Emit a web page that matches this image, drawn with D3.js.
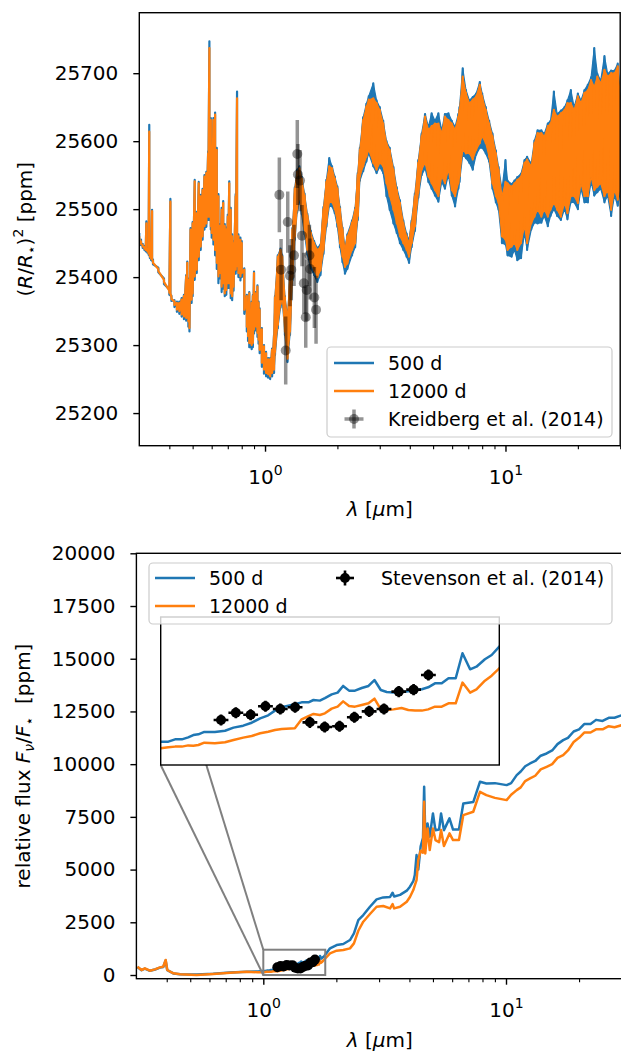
<!DOCTYPE html>
<html>
<head>
<meta charset="utf-8">
<script src="https://cdn.jsdelivr.net/npm/d3@7"></script>
<style>
  body { margin: 0; background: #fff; }
  svg text { font-family: "DejaVu Sans", sans-serif; fill: #000; }
</style>
</head>
<body>
<div id="chart"></div>
<script>
// ---------- data ----------

// top panel: transmission spectrum, sampled as upper / lower envelope of the dense model spectrum
const topWavelength = [
  0.300,0.305,0.310,0.315,0.319,0.321,0.324,0.328,0.330,0.332, 0.336,0.339,0.342,0.360,0.380,0.400,0.404,0.408,0.420,0.430,
  0.440,0.450,0.460,0.470,0.475,0.480,0.485,0.490,0.495,0.500,
  0.51,0.52,0.53,0.54,0.55,0.56,0.57,0.58,0.587,0.595, 0.60,0.61,0.62,0.63,0.64,0.65,0.66,0.67,0.68,0.69,
  0.70,0.71,0.72,0.73,0.74,0.755,0.765,0.775,0.79,0.80,
  0.82,0.84,0.85,0.86,0.87,0.88,0.89,0.90,0.91,0.92, 0.93,0.94,0.95,0.97,0.99,1.01,1.03,1.05,1.07,1.09,
  1.10,1.13,1.16,1.18,1.21,1.24,1.27,1.30,1.33,1.36, 1.39,1.42,1.46,1.50,1.55,1.60,1.65,1.70,1.75,1.80,
  1.85,1.90,1.95,2.00,2.05,2.10,2.15,2.20,2.30,2.37, 2.43,2.48,2.56,2.64,
  2.70,2.82,2.91,3.00,3.10,3.20,3.30,3.42,3.53,3.64, 3.76,3.88,3.97,4.07,4.20,4.34,4.48,4.63,4.78,4.93,
  5.09,5.26,5.43,5.60,5.79,5.98,6.17,6.37,6.44,6.64, 6.85,7.08,7.31,7.55,7.82,8.00,8.28,8.55,8.83,9.12,
  9.36,9.67,10.0,10.2,10.6,10.9,11.2,11.6,12.0,12.3, 12.8,13.2,13.6,14.1,14.5,15.0,15.4,15.9,16.4,17.0,
  17.6,18.1,18.7,19.3,20.0,20.6,21.3,22.0,22.7,23.4, 24.1,24.9,25.8,26.6,27.5,28.4,29.3,30.0
];
const transit12000Upper = [
  25460,25452,25447,25444,25442,25479,25441,25438,25614,25433, 25430,25497,25424,25412,25396,25380,25511,25371,25364,25362,
  25362,25367,25372,25401,25421,25396,25386,25470,25450,25479,
  25541,25494,25538,25519,25528,25548,25553,25582,25737,25631, 25568,25631,25639,25587,25519,25475,25499,25509,25475,25470,
  25489,25538,25499,25460,25450,25519,25663,25460,25455,25450,
  25411,25372,25352,25376,25352,25362,25372,25406,25376,25372, 25386,25362,25352,25323,25298,25288,25279,25279,25293,25313,
  25370,25430,25440,25430,25370,25340,25400,25470,25530,25555, 25560,25545,25520,25490,25465,25450,25440,25445,25500,25540,
  25563,25560,25545,25530,25500,25470,25440,25460,25480,25499, 25550,25587,25631,25651,
  25661,25663,25656,25646,25626,25597,25587,25558,25528,25509, 25479,25460,25450,25479,25519,25568,25607,25636,25617,25622,
  25626,25626,25612,25636,25631,25626,25617,25636,25646,25695, 25671,25656,25661,25666,25683,25666,25646,25626,25607,25582,
  25558,25519,25540,25538,25533,25538,25543,25548,25568,25573, 25563,25597,25612,25612,25607,25622,25626,25646,25636,25641,
  25646,25656,25656,25646,25666,25656,25671,25675,25690,25680, 25695,25685,25705,25695,25700,25700,25710,25666
];
const transit12000Lower = [
  25456,25449,25445,25442,25440,25440,25438,25435,25434,25430, 25427,25426,25421,25409,25393,25377,25376,25368,25359,25352,
  25350,25345,25342,25340,25345,25335,25325,25367,25367,25376,
  25401,25411,25430,25445,25460,25475,25479,25489,25489,25475, 25465,25455,25440,25421,25401,25406,25386,25391,25376,25381,
  25391,25391,25376,25372,25386,25411,25416,25406,25401,25406,
  25352,25327,25313,25303,25303,25300,25303,25323,25333,25327, 25318,25308,25293,25274,25264,25259,25257,25254,25259,25264,
  25290,25330,25360,25370,25320,25280,25320,25400,25460,25500, 25520,25500,25470,25440,25420,25410,25400,25410,25440,25480,
  25510,25510,25500,25480,25450,25430,25415,25420,25440,25450, 25490,25548,25563,25577,
  25587,25568,25558,25568,25563,25538,25519,25499,25479,25460, 25450,25440,25430,25450,25475,25524,25558,25568,25548,25538,
  25528,25519,25548,25538,25558,25528,25519,25538,25548,25587, 25582,25582,25573,25587,25597,25607,25597,25577,25538,25519,
  25509,25460,25455,25440,25445,25450,25440,25450,25475,25450, 25479,25489,25499,25489,25499,25489,25499,25509,25499,25489,
  25509,25494,25519,25519,25509,25538,25519,25519,25548,25528, 25533,25538,25519,25528,25499,25528,25514,25533
];
const transit500Upper = [
  25465,25455,25449,25446,25444,25482,25443,25440,25624,25435, 25432,25499,25426,25414,25398,25382,25515,25373,25366,25364,
  25364,25369,25374,25403,25423,25398,25388,25472,25452,25481,
  25543,25496,25540,25521,25530,25550,25555,25585,25747,25634, 25571,25634,25642,25590,25522,25478,25502,25512,25478,25473,
  25492,25541,25502,25463,25453,25522,25673,25463,25458,25453,
  25413,25374,25354,25378,25354,25364,25374,25408,25378,25374, 25388,25364,25354,25325,25300,25290,25281,25281,25295,25315,
  25372,25432,25442,25432,25372,25342,25402,25472,25532,25558, 25563,25548,25523,25493,25468,25453,25443,25448,25503,25543,
  25575,25563,25548,25533,25503,25473,25443,25463,25483,25502, 25553,25590,25635,25655,
  25666,25685,25660,25650,25630,25600,25590,25562,25532,25513, 25483,25464,25454,25483,25523,25572,25611,25640,25621,25641,
  25630,25641,25616,25640,25641,25630,25621,25640,25650,25707, 25675,25660,25665,25670,25687,25670,25650,25630,25611,25586,
  25562,25529,25572,25542,25537,25542,25547,25552,25572,25577, 25567,25601,25616,25616,25611,25626,25630,25673,25640,25645,
  25650,25660,25675,25650,25670,25660,25675,25683,25694,25737, 25699,25689,25725,25699,25704,25704,25714,25670
];
const transit500Lower = [
  25454,25447,25443,25440,25438,25438,25436,25433,25432,25428, 25425,25424,25419,25407,25390,25374,25373,25365,25356,25349,
  25346,25342,25338,25336,25341,25327,25320,25362,25362,25372,
  25396,25406,25425,25440,25455,25470,25474,25484,25484,25470, 25458,25448,25432,25412,25391,25398,25378,25383,25372,25374,
  25384,25384,25369,25366,25380,25405,25410,25400,25395,25400,
  25346,25320,25306,25297,25297,25294,25297,25317,25327,25321, 25312,25302,25288,25268,25258,25254,25252,25250,25254,25259,
  25285,25325,25355,25365,25315,25275,25315,25395,25455,25495, 25515,25493,25463,25433,25413,25403,25393,25403,25434,25474,
  25504,25504,25494,25474,25444,25422,25405,25412,25432,25444, 25484,25542,25556,25570,
  25582,25563,25553,25562,25553,25519,25499,25479,25465,25450, 25440,25430,25421,25444,25468,25517,25550,25560,25540,25530,
  25520,25511,25540,25530,25550,25520,25504,25530,25540,25580, 25575,25568,25558,25580,25590,25590,25582,25570,25530,25510,
  25499,25450,25448,25432,25430,25440,25425,25428,25465,25440, 25470,25480,25479,25480,25490,25475,25490,25500,25490,25484,
  25500,25485,25510,25510,25500,25530,25510,25510,25540,25520, 25525,25530,25510,25520,25490,25520,25505,25525
];

// Kreidberg et al. (2014) transit depths
const kreidbergWavelength = [1.147,1.166,1.219,1.243,1.270,1.286,1.320,1.362,1.370,1.398,1.425,1.450,1.477,1.490,1.530,1.540,1.604,1.630];
const kreidbergDepth      = [25521,25411,25292,25481,25402,25411,25432,25581,25551,25542,25461,25391,25341,25381,25432,25412,25370,25352];
const kreidbergError      = [55,45,50,45,45,45,45,50,45,45,45,45,45,45,45,45,45,50];

// bottom panel: relative emission flux
const bottomWavelength = [
  0.303,0.315,0.325,0.341,0.358,0.375,0.387,0.396,0.402,0.426, 0.454,0.531,0.622,0.729,0.854,0.950,
  1.000,1.018,1.034,1.050,1.065,1.077,1.089,1.103,1.128,1.152, 1.172,1.195,1.215,1.235,1.254,1.270,1.286,1.317,1.333,1.349,
  1.361,1.376,1.388,1.404,1.418,1.431,1.445,1.459,1.475,1.491, 1.505,1.520,1.534,1.550,1.569,1.585,1.601,1.617,1.632,1.648,
  1.664,1.680,1.697,1.713,1.731,1.746,1.766,1.782,1.800,
  1.883,2.005,2.136,2.276,2.363,2.463,2.582,2.751,2.930,3.120, 3.330,3.410,3.460,3.660,3.900,4.020,4.150,4.210,4.280,4.350,
  4.450,4.550,4.600,4.650,4.750,4.850,5.000,5.120,5.300,5.400, 5.550,5.850,6.050,6.400,6.670,7.330,7.810,8.300,9.000,10.06,
  10.5,11.07,11.5,12.0,12.56,13.2,13.9,14.7,15.5,16.3, 17.2,18.0,19.0,20.0,21.0,22.3,23.5,25.0,26.5,28.0,
  30.0
];
const flux500 = [
  380,230,300,200,260,350,380,690,230,75, 40,20,60,120,160,170,
  189,189,208,208,224,243,249,268,268,278, 303,319,343,378,403,441,468,492,508,508,
  527,522,543,573,587,641,603,603,624,641, 689,608,592,587,592,597,608,614,630,662,
  662,703,703,906,776,797,857,892,960,
  1264,1422,1469,1659,1975,2607,2844,3239,3587,3681, 3700,3903,3720,3800,4000,4187,4450,4740,5690,5000,
  6100,6500,8930,6560,7190,6560,7660,6870,6900,7660, 6870,7430,6900,6900,8137,8200,9164,9080,9100,9006,
  9100,9480,9650,9900,10033,10150,10400,10507,10650,10950, 11139,11250,11550,11650,11900,11900,12100,12050,12200,12200,
  12322
];
const flux12000 = [
  395,237,316,205,269,363,395,711,237,79, 32,0,47,111,150,130,
  135,143,149,149,159,157,162,181,176,184, 203,222,235,257,270,284,292,297,370,397,
  414,405,419,457,473,516,478,473,487,500, 538,451,446,451,462,446,441,441,451,473,
  473,500,500,668,587,614,684,724,784,
  1027,1153,1185,1264,1500,2100,2528,2891,3239,3271, 3160,3365,3160,3239,3476,3700,4029,4250,4500,5450,
  5900,5800,8216,5767,6952,5925,6952,6399,6300,6873, 6115,6715,6399,6399,7584,7742,8690,8532,8400,8295,
  8550,8769,8900,9200,9322,9450,9750,9875,10000,10300, 10428,10650,11050,11250,11500,11500,11650,11650,11800,11750,
  11848
];

// Stevenson et al. (2014) eclipse depths
const stevensonWavelength = [1.1425,1.1775,1.2125,1.2475,1.2825,1.3175,1.3525,1.3875,1.4225,1.4575,1.4925,1.5275,1.5625,1.5975,1.6325];
const stevensonFlux       = [365,424,408,476,454,468,346,308,314,387,435,454,595,611,730];
const stevensonError      = [45,45,45,45,45,45,45,45,45,45,45,45,45,45,45];
const stevensonBinHalf = 0.0175;

const yTicksTop = [25200,25300,25400,25500,25600,25700];
const yTicksBottom = [0,2500,5000,7500,10000,12500,15000,17500,20000];
const xMajor = [1, 10];
const xMinor = [0.4,0.5,0.6,0.7,0.8,0.9,2,3,4,5,6,7,8,9,20,30];

// ---------- layout ----------
const width = 621, height = 1055;
const blue = "#1f77b4", orange = "#ff7f0e";
const panelA = {left:139.3, right:620.2, top:12.7, bottom:445.7};
const panelB = {left:136.4, right:621.8, top:553.3, bottom:978.7};
const insetBox = {left:160.7, right:499.3, top:617, bottom:765};

const svg = d3.select("#chart").append("svg")
  .attr("width", width).attr("height", height);

const xA = d3.scaleLog().domain([0.3, 30]).range([panelA.left, panelA.right]);
const yA = d3.scaleLinear().domain([25152, 25789]).range([panelA.bottom, panelA.top]);
const xB = d3.scaleLog().domain([0.3, 30]).range([panelB.left, panelB.right]);
const yB = d3.scaleLinear().domain([-175, 20000]).range([panelB.bottom, panelB.top]);
const xI = d3.scaleLinear().domain([1.0, 1.8]).range([insetBox.left, insetBox.right]);
const yI = d3.scaleLinear().domain([0, 1200]).range([insetBox.bottom, insetBox.top]);

const defs = svg.append("defs");
function clip(id, p) {
  defs.append("clipPath").attr("id", id).append("rect")
    .attr("x", p.left).attr("y", p.top).attr("width", p.right - p.left).attr("height", p.bottom - p.top);
}
clip("clipA", panelA); clip("clipB", panelB); clip("clipI", insetBox);

function axes(p, x, y, yTicks) {
  // minor x ticks
  svg.append("g").attr("transform", `translate(0,${p.bottom})`)
    .call(d3.axisBottom(x).tickValues(xMinor).tickSize(3.5).tickFormat(""))
    .call(g => g.select(".domain").remove())
    .call(g => g.selectAll("line").attr("stroke-width", 1.1));
  // major x ticks with 10^n labels
  svg.append("g").attr("transform", `translate(0,${p.bottom})`)
    .call(d3.axisBottom(x).tickValues(xMajor).tickSize(6).tickFormat(""))
    .call(g => g.select(".domain").remove())
    .call(g => g.selectAll("line").attr("stroke-width", 1.4))
    .call(g => g.selectAll(".tick text").each(function(d) {
      const t = d3.select(this).attr("y", 38).attr("dy", null)
        .attr("font-size", 20).attr("text-anchor", "middle");
      t.text("10");
      t.append("tspan").attr("dy", -9).attr("font-size", 14).text(Math.round(Math.log10(d)));
    }));
  // y ticks
  svg.append("g").attr("transform", `translate(${p.left},0)`)
    .call(d3.axisLeft(y).tickValues(yTicks).tickSize(6).tickPadding(15).tickFormat(d3.format("d")))
    .call(g => g.select(".domain").remove())
    .call(g => g.selectAll("line").attr("stroke-width", 1.4))
    .call(g => g.selectAll("text").attr("font-size", 20).attr("font-family", "DejaVu Sans"));
  // frame
  svg.append("rect").attr("x", p.left).attr("y", p.top)
    .attr("width", p.right - p.left).attr("height", p.bottom - p.top)
    .attr("fill", "none").attr("stroke", "#000").attr("stroke-width", 1.4);
}

// ---------- top panel ----------
// the dense spectrum is drawn as a line that runs down from the upper to the lower
// envelope at each sample and jumps up to the next upper value (noisy texture);
// past ~1.1 um the model is so dense that the band between the envelopes is filled too
const gA = svg.append("g").attr("clip-path", "url(#clipA)");
const denseFrom = 1.09;
function noisySpectrum(hi, lo, color) {
  const dense = d3.range(topWavelength.length).filter(i => topWavelength[i] >= denseFrom);
  gA.append("path").datum(dense)
    .attr("d", d3.area().x(i => xA(topWavelength[i])).y0(i => yA(lo[i])).y1(i => yA(hi[i])))
    .attr("fill", color).attr("stroke", color).attr("stroke-width", 1.2).attr("stroke-linejoin", "round");
  const pts = [];
  topWavelength.forEach((w, i) => { pts.push([w, hi[i]]); pts.push([w, lo[i]]); });
  gA.append("path").datum(pts)
    .attr("d", d3.line().x(d => xA(d[0])).y(d => yA(d[1])))
    .attr("fill", "none").attr("stroke", color).attr("stroke-width", 2.2)
    .attr("stroke-linejoin", "round");
}
noisySpectrum(transit500Upper, transit500Lower, blue);
noisySpectrum(transit12000Upper, transit12000Lower, orange);

// Kreidberg error bars
const kIdx = d3.range(kreidbergWavelength.length);
const kG = gA.append("g");
kG.selectAll("line.kerr").data(kIdx).enter().append("line")
  .attr("x1", i => xA(kreidbergWavelength[i])).attr("x2", i => xA(kreidbergWavelength[i]))
  .attr("y1", i => yA(kreidbergDepth[i] - kreidbergError[i]))
  .attr("y2", i => yA(kreidbergDepth[i] + kreidbergError[i]))
  .attr("stroke", "#000").attr("stroke-opacity", 0.42).attr("stroke-width", 3.5);
kG.selectAll("circle").data(kIdx).enter().append("circle")
  .attr("cx", i => xA(kreidbergWavelength[i])).attr("cy", i => yA(kreidbergDepth[i]))
  .attr("r", 5).attr("fill", "#000").attr("fill-opacity", 0.42);

axes(panelA, xA, yA, yTicksTop);

// ---------- bottom panel ----------
const idxBot = d3.range(bottomWavelength.length);
const gB = svg.append("g").attr("clip-path", "url(#clipB)");
function fluxLine(g, x, y, vals, color) {
  g.append("path").datum(idxBot)
    .attr("d", d3.line().x(i => x(bottomWavelength[i])).y(i => y(vals[i])))
    .attr("fill", "none").attr("stroke", color).attr("stroke-width", 2.5)
    .attr("stroke-linejoin", "round");
}
fluxLine(gB, xB, yB, flux500, blue);
fluxLine(gB, xB, yB, flux12000, orange);

function stevenson(g, x, y) {
  const idx = d3.range(stevensonWavelength.length);
  g.selectAll("line.sx").data(idx).enter().append("line")
    .attr("x1", i => x(stevensonWavelength[i] - stevensonBinHalf))
    .attr("x2", i => x(stevensonWavelength[i] + stevensonBinHalf))
    .attr("y1", i => y(stevensonFlux[i])).attr("y2", i => y(stevensonFlux[i]))
    .attr("stroke", "#000").attr("stroke-width", 2.6);
  g.selectAll("line.sy").data(idx).enter().append("line")
    .attr("x1", i => x(stevensonWavelength[i])).attr("x2", i => x(stevensonWavelength[i]))
    .attr("y1", i => y(stevensonFlux[i] - stevensonError[i]))
    .attr("y2", i => y(stevensonFlux[i] + stevensonError[i]))
    .attr("stroke", "#000").attr("stroke-width", 2.6);
  g.selectAll("circle").data(idx).enter().append("circle")
    .attr("cx", i => x(stevensonWavelength[i])).attr("cy", i => y(stevensonFlux[i]))
    .attr("r", 5).attr("fill", "#000");
}
stevenson(gB.append("g"), xB, yB);

axes(panelB, xB, yB, yTicksBottom);

// zoom indicator and connectors
const gray = "#808080";
svg.append("rect")
  .attr("x", xB(1.0)).attr("y", yB(1200))
  .attr("width", xB(1.8) - xB(1.0)).attr("height", yB(0) - yB(1200))
  .attr("fill", "none").attr("stroke", gray).attr("stroke-width", 2);
svg.append("line").attr("x1", insetBox.left).attr("y1", insetBox.top)
  .attr("x2", xB(1.0)).attr("y2", yB(1200)).attr("stroke", gray).attr("stroke-width", 2);
svg.append("line").attr("x1", insetBox.left).attr("y1", insetBox.bottom)
  .attr("x2", xB(1.0)).attr("y2", yB(0)).attr("stroke", gray).attr("stroke-width", 2);

// inset
svg.append("rect").attr("x", insetBox.left).attr("y", insetBox.top)
  .attr("width", insetBox.right - insetBox.left).attr("height", insetBox.bottom - insetBox.top)
  .attr("fill", "#fff");
const gI = svg.append("g").attr("clip-path", "url(#clipI)");
fluxLine(gI, xI, yI, flux500, blue);
fluxLine(gI, xI, yI, flux12000, orange);
stevenson(gI.append("g"), xI, yI);
svg.append("rect").attr("x", insetBox.left).attr("y", insetBox.top)
  .attr("width", insetBox.right - insetBox.left).attr("height", insetBox.bottom - insetBox.top)
  .attr("fill", "none").attr("stroke", "#000").attr("stroke-width", 1.4);

// ---------- axis labels ----------
function xLabel(yPos, cx) {
  const t = svg.append("text").attr("x", cx).attr("y", yPos).attr("text-anchor", "middle").attr("font-size", 20);
  t.append("tspan").attr("font-style", "italic").text("λ");
  t.append("tspan").text(" [");
  t.append("tspan").attr("font-style", "italic").text("μ");
  t.append("tspan").text("m]");
}
xLabel(516, (panelA.left + panelA.right) / 2);
xLabel(1047, (panelA.left + panelA.right) / 2);

const yl1 = svg.append("text").attr("transform", `translate(32,${(panelA.top + panelA.bottom) / 2}) rotate(-90)`)
  .attr("text-anchor", "middle").attr("font-size", 20);
yl1.append("tspan").text("(");
yl1.append("tspan").attr("font-style", "italic").text("R");
yl1.append("tspan").text("/");
yl1.append("tspan").attr("font-style", "italic").text("R");
yl1.append("tspan").attr("font-size", 14).attr("dy", 4).text("⋆");
yl1.append("tspan").attr("dy", -4).text(")");
yl1.append("tspan").attr("font-size", 14).attr("dy", -9).text("2");
yl1.append("tspan").attr("dy", 9).text(" [ppm]");

const yl2 = svg.append("text").attr("transform", `translate(30,${(panelB.top + panelB.bottom) / 2}) rotate(-90)`)
  .attr("text-anchor", "middle").attr("font-size", 20);
yl2.append("tspan").text("relative flux ");
yl2.append("tspan").attr("font-style", "italic").text("F");
yl2.append("tspan").attr("font-style", "italic").attr("font-size", 14).attr("dy", 4).text("ν");
yl2.append("tspan").attr("dy", -4).text("/");
yl2.append("tspan").attr("font-style", "italic").text("F");
yl2.append("tspan").attr("font-size", 14).attr("dy", 4).text("⋆");
yl2.append("tspan").attr("dy", -4).text("  [ppm]").attr("xml:space", "preserve");

// ---------- legends ----------
function legendFrame(x, y, w, h) {
  svg.append("rect").attr("x", x).attr("y", y).attr("width", w).attr("height", h).attr("rx", 4)
    .attr("fill", "#fff").attr("fill-opacity", 0.8).attr("stroke", "#cccccc").attr("stroke-width", 1.2);
}
function legendLine(x, y, color, label) {
  svg.append("line").attr("x1", x).attr("x2", x + 40).attr("y1", y).attr("y2", y)
    .attr("stroke", color).attr("stroke-width", 2.5);
  svg.append("text").attr("x", x + 54).attr("y", y + 7).attr("font-size", 19).text(label);
}
function legendErr(cx, cy, dx, dy, r, color, opacity, lw, label, textX) {
  const g = svg.append("g");
  g.append("line").attr("x1", cx - dx).attr("x2", cx + dx).attr("y1", cy).attr("y2", cy)
    .attr("stroke", color).attr("stroke-opacity", opacity).attr("stroke-width", lw);
  g.append("line").attr("x1", cx).attr("x2", cx).attr("y1", cy - dy).attr("y2", cy + dy)
    .attr("stroke", color).attr("stroke-opacity", opacity).attr("stroke-width", lw);
  g.append("circle").attr("cx", cx).attr("cy", cy).attr("r", r).attr("fill", color).attr("fill-opacity", opacity);
  svg.append("text").attr("x", textX).attr("y", cy + 7).attr("font-size", 19).text(label);
}

legendFrame(327, 347, 285, 90);
legendLine(334, 363, blue, "500 d");
legendLine(334, 391, orange, "12000 d");
legendErr(354, 419, 9.5, 9.5, 5, "#000", 0.42, 3.5, "Kreidberg et al. (2014)", 388);

legendFrame(149, 563, 463, 61);
legendLine(155, 578, blue, "500 d");
legendLine(155, 606, orange, "12000 d");
legendErr(345, 578, 9, 7.5, 5, "#000", 1, 2.6, "Stevenson et al. (2014)", 381);
</script>
</body>
</html>
